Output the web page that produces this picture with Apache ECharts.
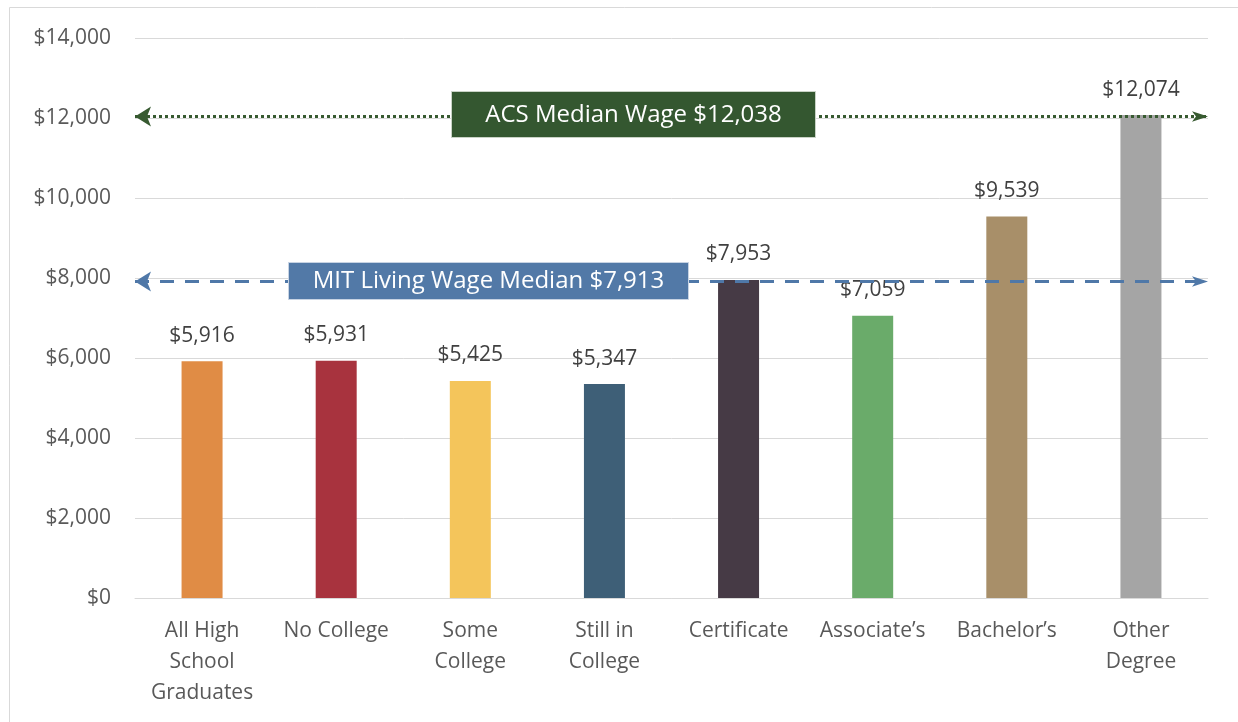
<!DOCTYPE html>
<html>
<head>
<meta charset="utf-8">
<script src="https://cdn.jsdelivr.net/npm/echarts@6/dist/echarts.min.js"></script>
<style>
  html, body { margin: 0; padding: 0; background: #fff; }
  #chart { width: 1238px; height: 722px; }
</style>
</head>
<body>
<div id="chart"></div>
<script>
// data
const categories = ['All High\nSchool\nGraduates', 'No College', 'Some\nCollege', 'Still in\nCollege',
                    'Certificate', 'Associate\u2019s', 'Bachelor\u2019s', 'Other\nDegree'];
const wages = [5916, 5931, 5425, 5347, 7953, 7059, 9539, 12074];
const barColors = ['#e08c45', '#a8333e', '#f4c55b', '#3e5f77', '#463a45', '#6aab6a', '#a88f69', '#a5a5a5'];
const yTicks = [0, 2000, 4000, 6000, 8000, 10000, 12000, 14000];
const acsMedian = 12038;
const mitMedian = 7913;

const FONT = '"Open Sans", "Noto Sans", sans-serif';

function money(v) {
    return '$' + Math.round(v).toString().replace(/\B(?=(\d{3})+(?!\d))/g, ',');
}

const chart = echarts.init(document.getElementById('chart'));

const option = {
    animation: false,
    backgroundColor: '#fff',
    grid: { left: 135, right: 30, top: 38, bottom: 124 },
    xAxis: {
        type: 'category',
        data: categories,
        axisLine: { lineStyle: { color: '#d9d9d9', width: 1 } },
        axisTick: { show: false },
        axisLabel: {
            interval: 0,
            color: '#595959',
            fontFamily: FONT,
            fontSize: 21,
            lineHeight: 31,
            margin: 18
        }
    },
    yAxis: {
        type: 'value',
        min: yTicks[0],
        max: yTicks[yTicks.length - 1],
        interval: 2000,
        axisLine: { show: false },
        axisTick: { show: false },
        splitLine: { lineStyle: { color: '#d9d9d9', width: 1 } },
        axisLabel: {
            color: '#595959',
            fontFamily: FONT,
            fontSize: 21,
            margin: 24,
            formatter: v => money(v)
        }
    },
    series: [
        {
            type: 'bar',
            barWidth: 41,
            data: wages.map((v, i) => ({ value: v, itemStyle: { color: barColors[i] } })),
            label: {
                show: true,
                position: 'top',
                distance: 15,
                color: '#404040',
                fontFamily: FONT,
                fontSize: 21,
                formatter: p => money(p.value)
            },
            markLine: {
                silent: true,
                symbol: ['arrow', 'arrow'],
                label: { show: false },
                data: [
                    {
                        yAxis: acsMedian,
                        symbolSize: [15, 16],
                        lineStyle: { color: '#375a30', width: 3, type: [3, 3] }
                    },
                    {
                        yAxis: mitMedian,
                        symbolSize: [15, 16],
                        lineStyle: { color: '#4f78a8', width: 3, type: [14, 11] }
                    }
                ]
            }
        }
    ],
    graphic: [
        {
            type: 'rect',
            z: -10,
            shape: { x: 9.5, y: 7.5, width: 1400, height: 900 },
            style: { fill: 'none', stroke: '#d9d9d9', lineWidth: 1 }
        },
        {
            type: 'group',
            z: 100,
            left: 451, top: 91,
            children: [
                { type: 'rect', z: 100, shape: { x: 0, y: 0, width: 364, height: 46 },
                  style: { fill: '#345730', stroke: '#c9d3c6', lineWidth: 1 } },
                { type: 'text', z: 101, x: 182, y: 24,
                  style: { text: 'ACS Median Wage ' + money(acsMedian), fill: '#fff', font: '24px ' + FONT,
                           align: 'center', verticalAlign: 'middle' } }
            ]
        },
        {
            type: 'group',
            z: 100,
            left: 288, top: 262,
            children: [
                { type: 'rect', z: 100, shape: { x: 0, y: 0, width: 400, height: 37 },
                  style: { fill: '#5279a7', stroke: '#c7d3e3', lineWidth: 1 } },
                { type: 'text', z: 101, x: 200, y: 19,
                  style: { text: 'MIT Living Wage Median ' + money(mitMedian), fill: '#fff', font: '24px ' + FONT,
                           align: 'center', verticalAlign: 'middle' } }
            ]
        }
    ]
};

chart.setOption(option);
</script>
</body>
</html>
